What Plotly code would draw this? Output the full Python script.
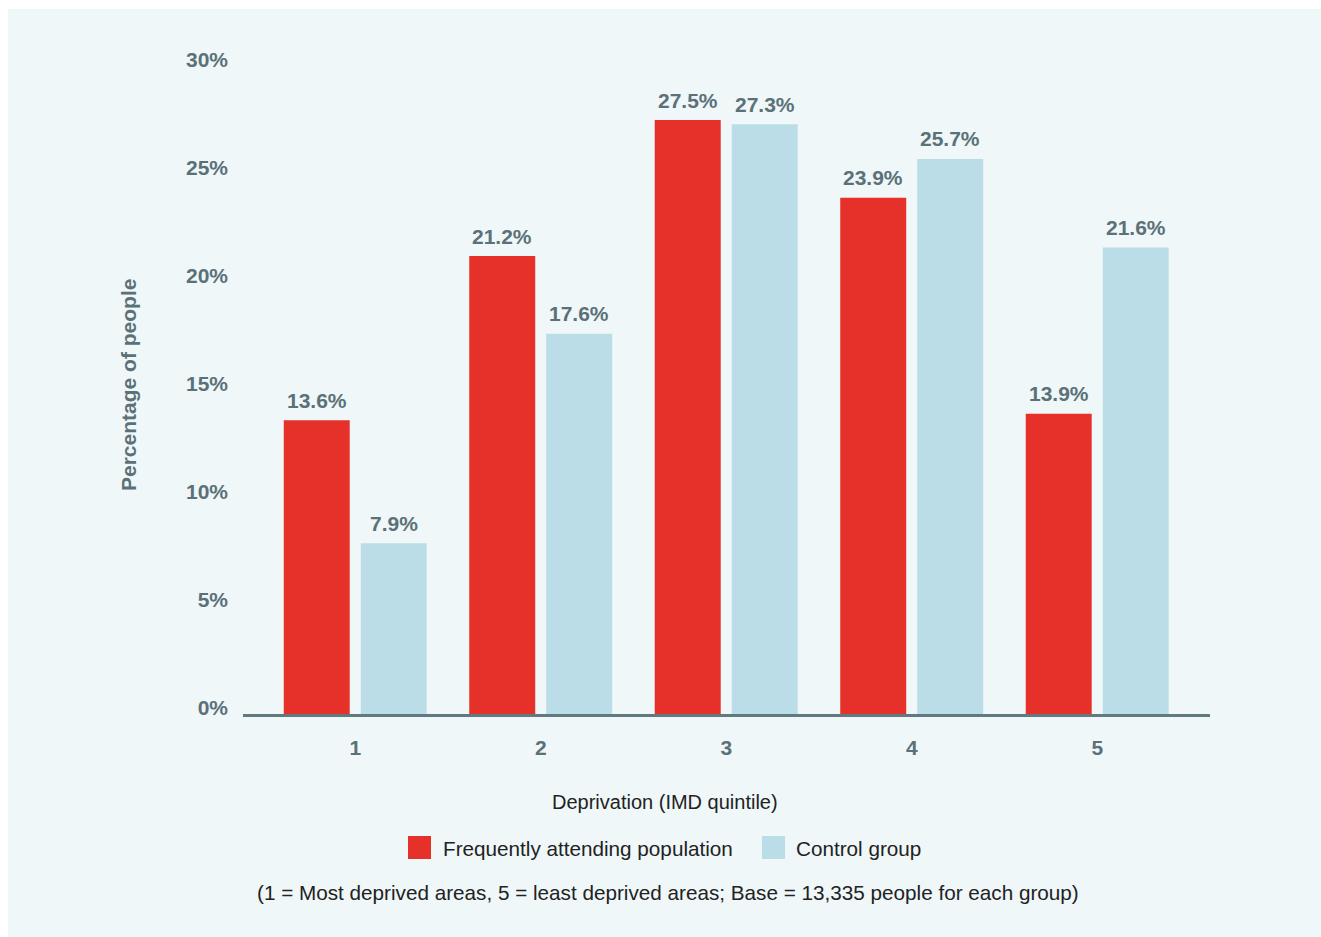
import plotly.graph_objects as go

# IMD quintiles (1 = most deprived, 5 = least deprived)
quintiles = ["1", "2", "3", "4", "5"]
frequent_pct = [13.6, 21.2, 27.5, 23.9, 13.9]
control_pct = [7.9, 17.6, 27.3, 25.7, 21.6]
series_names = ["Frequently attending population", "Control group"]
y_ticks = [0, 5, 10, 15, 20, 25, 30]
y_tick_labels = [f"{v}%" for v in y_ticks]

RED = "#e5312a"
BLUE = "#badde7"
GREY = "#5b7178"
INK = "#222222"
PANEL = "#eff7f9"
FONT = "Liberation Sans"

W, H = 1321, 937
L, R, T, B = 243, 111, 66, 223
PW, PH = W - L - R, H - T - B


def px_x(p):
    return (p - L) / PW


def px_y(p):
    return (H - B - p) / PH


bold = dict(family=FONT, size=21, color=GREY, weight="bold")

fig = go.Figure()
for name, vals, col in [(series_names[0], frequent_pct, RED),
                        (series_names[1], control_pct, BLUE)]:
    fig.add_trace(go.Bar(
        x=quintiles, y=vals, name=name,
        marker=dict(color=col, line=dict(width=0)),
        showlegend=False, hoverinfo="x+y+name",
    ))

# value labels above each bar; on a category axis annotations take the
# category index, shifted left/right onto the bar of each group
SLOT = 38.5
value_labels = []
for vals, dx in [(frequent_pct, -SLOT), (control_pct, SLOT)]:
    for idx, v in enumerate(vals):
        value_labels.append(dict(
            x=idx, y=v, xref="x", yref="y", text=f"{v:.1f}%", showarrow=False,
            xanchor="center", yanchor="middle", xshift=dx, yshift=20, font=bold,
        ))

shapes = [
    # light panel behind the chart
    dict(type="rect", xref="paper", yref="paper", layer="below",
         x0=px_x(8), x1=px_x(1321), y0=px_y(937), y1=px_y(9),
         fillcolor=PANEL, line=dict(width=0)),
    # legend swatches
    dict(type="rect", xref="paper", yref="paper",
         x0=px_x(408), x1=px_x(431), y0=px_y(859), y1=px_y(836),
         fillcolor=RED, line=dict(width=0)),
    dict(type="rect", xref="paper", yref="paper",
         x0=px_x(762), x1=px_x(785), y0=px_y(859), y1=px_y(836),
         fillcolor=BLUE, line=dict(width=0)),
]

title_font = dict(family=FONT, size=20, color=INK)
reg = dict(family=FONT, size=20.7, color=INK)
annotations = value_labels + [
    dict(text="Percentage of people", xref="paper", yref="paper",
         x=px_x(128), y=px_y(385), textangle=-90, showarrow=False,
         xanchor="center", yanchor="middle", font=bold),
    dict(text="Deprivation (IMD quintile)", xref="paper", yref="paper",
         x=px_x(665), y=px_y(802), showarrow=False,
         xanchor="center", yanchor="middle", font=title_font),
    dict(text=series_names[0], xref="paper", yref="paper",
         x=px_x(441), y=px_y(848), showarrow=False,
         xanchor="left", yanchor="middle", font=reg),
    dict(text=series_names[1], xref="paper", yref="paper",
         x=px_x(794), y=px_y(848), showarrow=False,
         xanchor="left", yanchor="middle", font=reg),
    dict(text="(1 = Most deprived areas, 5 = least deprived areas; Base = 13,335 people for each group)",
         xref="paper", yref="paper", x=px_x(668), y=px_y(892), showarrow=False,
         xanchor="center", yanchor="middle", font=reg),
]

fig.update_layout(
    width=W, height=H,
    margin=dict(l=L, r=R, t=T, b=B, pad=0),
    paper_bgcolor="white", plot_bgcolor="rgba(0,0,0,0)",
    barmode="group", bargap=0.17, bargroupgap=0.143,
    shapes=shapes, annotations=annotations,
    showlegend=False,
    xaxis=dict(type="category", range=[-0.605, 4.608], showgrid=False,
               zeroline=False, showline=True, linecolor="#607a80", linewidth=2.5,
               ticks="", tickfont=bold, ticklabelstandoff=13),
    yaxis=dict(range=[0, 30], tickvals=y_ticks, ticktext=y_tick_labels,
               showgrid=False, zeroline=False, showline=False, ticks="",
               tickfont=bold, ticklabelstandoff=14, ticklabelshift=-6),
)

fig.write_html("out.html")
